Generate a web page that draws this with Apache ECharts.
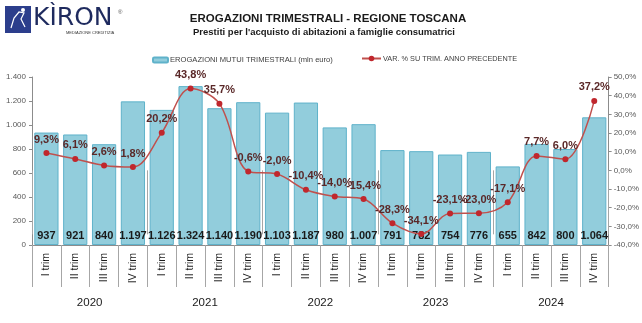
<!DOCTYPE html>
<html>
<head>
<meta charset="utf-8">
<script src="https://cdn.jsdelivr.net/npm/echarts@6/dist/echarts.min.js"></script>
<style>
html,body{margin:0;padding:0;background:#fff;}
#chart{width:642px;height:323px;}
</style>
</head>
<body>
<div id="chart"></div>
<script>
const quarters = ['I trim','II trim','III trim','IV trim','I trim','II trim','III trim','IV trim','I trim','II trim','III trim','IV trim','I trim','II trim','III trim','IV trim','I trim','II trim','III trim','IV trim'];
const years = ['2020','2021','2022','2023','2024'];
const erogazioni = [937,921,840,1197,1126,1324,1140,1190,1103,1187,980,1007,791,782,754,776,655,842,800,1064];
const variazione = [9.3,6.1,2.6,1.8,20.2,43.8,35.7,-0.6,-2.0,-10.4,-14.0,-15.4,-28.3,-34.1,-23.1,-23.0,-17.1,7.7,6.0,37.2];
const leftTicks = {min:0, max:1400, interval:200};
const rightTicks = {min:-40, max:50, interval:10};
const barName = 'EROGAZIONI MUTUI TRIMESTRALI (mln euro)';
const lineName = 'VAR. % SU TRIM. ANNO PRECEDENTE';

const FONT = '"Liberation Sans", Arial, sans-serif';
function thousands(v){
  return v >= 1000 ? Math.floor(v/1000) + '.' + String(v % 1000).padStart(3,'0') : String(v);
}
function pct(v){ return v.toFixed(1).replace('.', ',') + '%'; }

const chart = echarts.init(document.getElementById('chart'), null, {renderer:'canvas'});
chart.setOption({
  animation:false,
  backgroundColor:'#ffffff',
  title:[
    {text:'EROGAZIONI TRIMESTRALI - REGIONE TOSCANA', left:323, top:8, textAlign:'center',
     textStyle:{fontFamily:FONT, fontWeight:'bold', fontSize:11.5, color:'#1a1a1a'}},
    {text:"Prestiti per l'acquisto di abitazioni a famiglie consumatrici", left:319, top:22, textAlign:'center',
     textStyle:{fontFamily:FONT, fontWeight:'bold', fontSize:9.5, color:'#1a1a1a'}}
  ],
  graphic:[
    {type:'rect', shape:{x:5,y:6,width:26,height:27}, style:{fill:'#2c3e8c'}},
    {type:'polyline', shape:{points:[[11,28],[14,18],[19,12],[24,13],[21,19],[25,27]]}, style:{stroke:'#ffffff', lineWidth:1.2, fill:null}},
    {type:'circle', shape:{cx:23,cy:10,r:2}, style:{fill:'#ffffff'}},
    {type:'text', left:33, top:6, style:{text:'KÌRON', font:'25px "DejaVu Sans", sans-serif', fill:'#1e2a5e'}},
    {type:'text', left:66, top:31, style:{text:'MEDIAZIONE CREDITIZIA', font:'4px "Liberation Sans", sans-serif', fill:'#333'}},
    {type:'text', left:118, top:9, style:{text:'®', font:'6px "Liberation Sans", sans-serif', fill:'#555'}}
  ],
  legend:[
    {data:[barName], left:147, top:51, itemWidth:15, itemHeight:5, itemGap:4,
     textStyle:{fontFamily:FONT, fontSize:7.6, color:'#404040', padding:[0,0,0,-3]}},
    {data:[lineName], left:356, top:50, itemWidth:19, itemHeight:7,
     textStyle:{fontFamily:FONT, fontSize:7.3, color:'#404040', padding:[0,0,0,-3]}}
  ],
  grid:{left:32, right:31, top:77, bottom:78, containLabel:false},
  xAxis:[
    {type:'category', data:quarters, position:'bottom',
     axisLine:{show:true, lineStyle:{color:'#8c8c8c', width:1}},
     axisTick:{show:true, length:42, interval:0, lineStyle:{color:'#a6a6a6'}},
     axisLabel:{interval:0, rotate:90, margin:8, fontFamily:FONT, fontSize:10.5, color:'#1a1a1a'}},
    {type:'category', data:years, position:'bottom', gridIndex:0,
     axisLine:{show:false},
     axisTick:{show:true, length:64, interval:0, lineStyle:{color:'#a6a6a6'}},
     axisLabel:{interval:0, margin:52, fontFamily:FONT, fontSize:11.5, color:'#1a1a1a'}}
  ],
  yAxis:[
    {type:'value', min:leftTicks.min, max:leftTicks.max, interval:leftTicks.interval, position:'left',
     axisLine:{show:true, lineStyle:{color:'#8c8c8c'}},
     axisTick:{show:true, length:3, lineStyle:{color:'#8c8c8c'}},
     splitLine:{show:false},
     axisLabel:{margin:6, fontFamily:FONT, fontSize:8, color:'#595959', formatter:thousands}},
    {type:'value', min:rightTicks.min, max:rightTicks.max, interval:rightTicks.interval, position:'right',
     axisLine:{show:true, lineStyle:{color:'#8c8c8c'}},
     axisTick:{show:true, length:3, lineStyle:{color:'#8c8c8c'}},
     splitLine:{show:false},
     axisLabel:{margin:5, fontFamily:FONT, fontSize:8, color:'#595959', formatter:pct}}
  ],
  series:[
    {name:barName, type:'bar', data:erogazioni, xAxisIndex:0, yAxisIndex:0,
     barCategoryGap:'16%',
     itemStyle:{color:'#92cddc', borderColor:'#5fb2ca', borderWidth:1},
     label:{show:true, position:'insideBottom', distance:4, formatter:p=>thousands(p.value),
       fontFamily:FONT, fontWeight:'bold', fontSize:11, color:'#1a1a1a'}},
    {name:lineName, type:'line', data:variazione, xAxisIndex:0, yAxisIndex:1,
     smooth:0.35, symbol:'circle', symbolSize:6,
     lineStyle:{color:'#c0504d', width:1.5},
     itemStyle:{color:'#c0272d'},
     label:{show:true, position:'top', distance:5, formatter:p=>pct(p.value),
       fontFamily:FONT, fontWeight:'bold', fontSize:11, color:'#5a2828'}}
  ]
});
</script>
</body>
</html>
